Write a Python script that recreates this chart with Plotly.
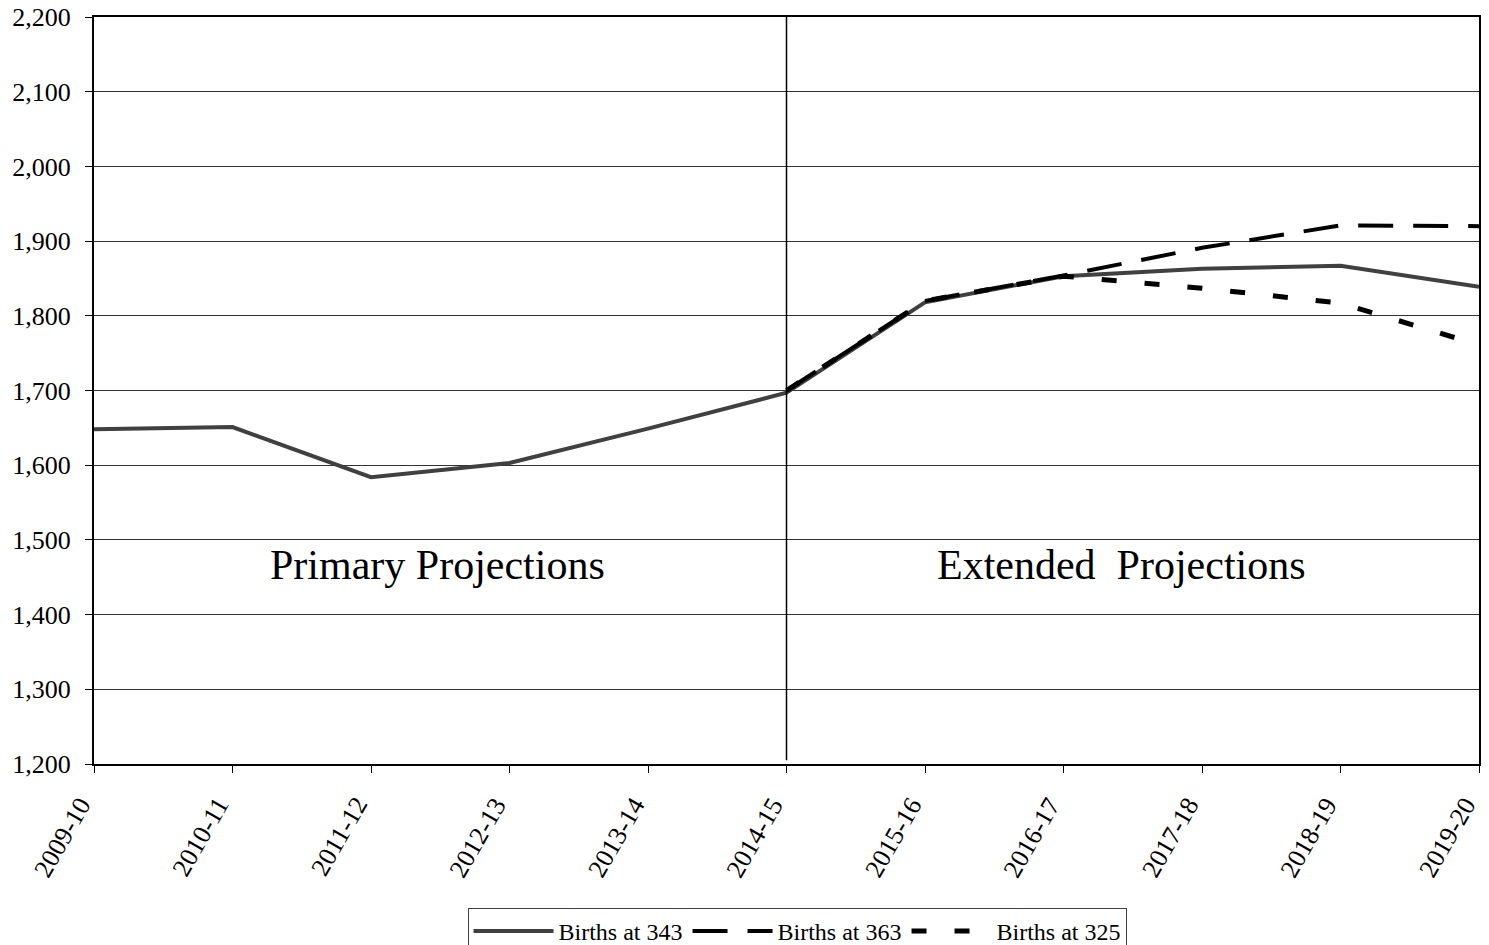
import plotly.graph_objects as go

years = ["2009-10", "2010-11", "2011-12", "2012-13", "2013-14", "2014-15",
         "2015-16", "2016-17", "2017-18", "2018-19", "2019-20"]
births_343 = [1648, 1651, 1584, 1603, 1649, 1697, 1818, 1853, 1863, 1867, 1839]
years_ext = years[5:]
births_363 = [1700, 1820, 1854, 1891, 1921, 1920]
births_325 = [1700, 1820, 1853, 1837, 1817, 1761]
y_ticks = list(range(1200, 2201, 100))

xi = {y: i for i, y in enumerate(years)}
serif = "Liberation Serif, Times New Roman, serif"

fig = go.Figure()
fig.add_trace(go.Scatter(x=[xi[y] for y in years], y=births_343, mode="lines",
                         name="Births at 343", line=dict(color="#404040", width=4)))
fig.add_trace(go.Scatter(x=[xi[y] for y in years_ext], y=births_363, mode="lines",
                         name="Births at 363", line=dict(color="black", width=4, dash="35px,20px")))
fig.add_trace(go.Scatter(x=[xi[y] for y in years_ext], y=births_325, mode="lines",
                         name="Births at 325", line=dict(color="black", width=5, dash="15px,28px")))

fig.add_shape(type="line", xref="x", yref="paper", x0=5, x1=5, y0=0.005, y1=1,
              line=dict(color="black", width=1.5))

fig.add_annotation(x=2.48, y=1466, xref="x", yref="y", text="Primary Projections",
                   showarrow=False, font=dict(family=serif, size=42, color="black"))
fig.add_annotation(x=7.42, y=1466, xref="x", yref="y", text="Extended&nbsp; Projections",
                   showarrow=False, font=dict(family=serif, size=42, color="black"))

# x tick labels (rotated, anchored at their top-right end under each tick)
for i, lab in enumerate(years):
    fig.add_annotation(x=i, y=0, xref="x", yref="paper", text=lab, showarrow=False,
                       textangle=-60, xanchor="right", yanchor="top", yshift=-27,
                       xshift=4, borderpad=0,
                       font=dict(family=serif, size=26, color="black"))

fig.update_layout(
    width=1489, height=945,
    margin=dict(l=94, r=10, t=17, b=181, autoexpand=False),
    plot_bgcolor="white", paper_bgcolor="white",
    font=dict(family=serif, color="black"),
    showlegend=True,
    legend=dict(orientation="h", x=0.5076, xanchor="center", y=-0.1928, yanchor="top",
                bordercolor="#404040", borderwidth=1, bgcolor="white",
                font=dict(family=serif, size=24, color="black"),
                traceorder="normal", itemwidth=80),
)
fig.update_xaxes(range=[0, 10], tickvals=list(range(len(years))), showticklabels=False,
                 ticks="outside", ticklen=7, tickcolor="black",
                 showline=True, linecolor="black", linewidth=2, mirror=True,
                 showgrid=False, zeroline=False, automargin=False)
fig.update_yaxes(range=[1200, 2200], tickvals=y_ticks,
                 ticktext=[f"{v:,}" for v in y_ticks],
                 ticks="outside", ticklen=7, tickcolor="black",
                 showline=True, linecolor="black", linewidth=2, mirror=True,
                 showgrid=True, gridcolor="#333333", gridwidth=1, zeroline=False,
                 automargin=False, ticklabeloverflow="allow", ticklabelstandoff=9,
                 tickfont=dict(family=serif, size=26, color="black"))

fig.write_html("out.html", config={"displayModeBar": False},
               post_script="document.body.style.margin='0';document.body.style.overflow='hidden';")
